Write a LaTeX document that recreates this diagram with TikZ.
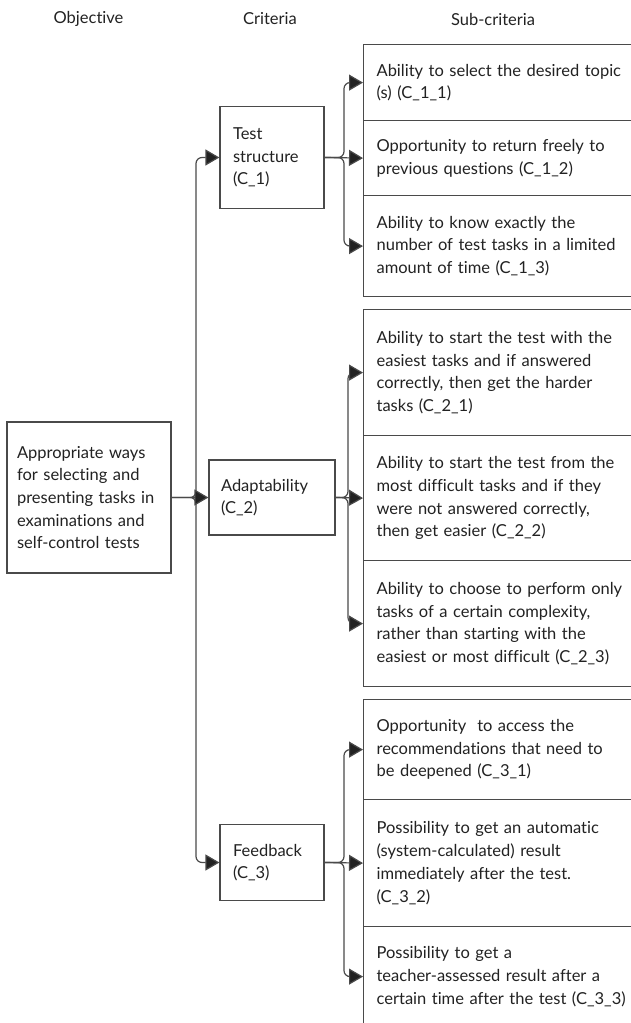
\documentclass[tikz,border=0pt]{standalone}
\usepackage{fontspec}
\setmainfont[Ligatures=NoCommon]{Lato}
\usetikzlibrary{arrows.meta}
\definecolor{boxc}{HTML}{4A4A4A}
\definecolor{linec}{HTML}{4A4A4A}
\definecolor{txt}{HTML}{222222}
\begin{document}
\begin{tikzpicture}[x=1pt,y=-1pt,
  every node/.style={text=txt, font=\fontsize{16.5}{22.7}\selectfont},
  box/.style={draw=boxc, line width=1.2pt, align=left, inner ysep=0pt},
  subbox/.style={box, anchor=north west, text width=290pt, inner xsep=13pt},
  head/.style={inner sep=0pt},
  arr/.style={draw=linec, line width=1.2pt, rounded corners=6pt,
    -{Triangle[length=14pt,width=16pt,fill=txt]}}]
\useasboundingbox (0,0) rectangle (631,1023);
\clip (0,0) rectangle (631,1023);
\fill[white] (0,0) rectangle (631,1023);
% headers
\node[head] (h1) at (88.5,19) {Objective};
\node[head] (h2) at (270,19) {Criteria};
\node[head] (h3) at (493,19) {Sub-criteria};
% objective
\node[box, minimum height=151pt, text width=144pt, inner xsep=10pt] (obj) at (89,497.5)
  {Appropriate ways\\for selecting and\\presenting tasks in\\examinations and\\self-control tests};
% criteria
\node[box, minimum height=102pt, text width=78pt, inner xsep=13pt] (c1) at (272,157.5)
  {Test\\structure\\(C\_1)};
\node[box, minimum height=75pt, text width=102pt, inner xsep=12pt] (c2) at (272,497.5)
  {Adaptability\\(C\_2)};
\node[box, minimum height=76pt, text width=78pt, inner xsep=13pt] (c3) at (272,862.5)
  {Feedback\\(C\_3)};
% sub-criteria
\node[subbox, minimum height=76pt] (s11) at (363,44)
  {Ability to select the desired topic\\(s) (C\_1\_1)};
\node[subbox, minimum height=75pt] (s12) at (363,120)
  {Opportunity to return freely to\\previous questions (C\_1\_2)};
\node[subbox, minimum height=101pt] (s13) at (363,195)
  {Ability to know exactly the\\number of test tasks in a limited\\amount of time (C\_1\_3)};
\node[subbox, minimum height=126pt] (s21) at (363,309)
  {Ability to start the test with the\\easiest tasks and if answered\\correctly, then get the harder\\tasks (C\_2\_1)};
\node[subbox, minimum height=125pt] (s22) at (363,435)
  {Ability to start the test from the\\most difficult tasks and if they\\were not answered correctly,\\then get easier (C\_2\_2)};
\node[subbox, minimum height=126pt] (s23) at (363,560)
  {Ability to choose to perform only\\tasks of a certain complexity,\\rather than starting with the\\easiest or most difficult (C\_2\_3)};
\node[subbox, minimum height=100pt] (s31) at (363,699)
  {Opportunity\ \ to access the\\recommendations that need to\\be deepened (C\_3\_1)};
\node[subbox, minimum height=127pt] (s32) at (363,799)
  {Possibility to get an automatic\\(system-calculated) result\\immediately after the test.\\(C\_3\_2)};
\node[subbox, minimum height=100pt] (s33) at (363,926)
  {Possibility to get a\\teacher-assessed result after a\\certain time after the test (C\_3\_3)};
% objective to criteria
\coordinate (j0) at (196,497.5);
\draw[arr] (obj.east) -- (j0) |- (c1.west);
\draw[arr] (obj.east) -- (j0) |- (c3.west);
\draw[arr] (obj.east) -- (c2.west);
% criteria to sub-criteria
\coordinate (f1) at (344,157.5);
\coordinate (f2) at (348,497.5);
\coordinate (f3) at (344,862.5);
\draw[arr] (c1.east) -- (f1) |- (s11.west);
\draw[arr] (c1.east) -- (s12.west);
\draw[arr] (c1.east) -- (f1) |- (s13.west);
\draw[arr] (c2.east) -- (f2) |- (s21.west);
\draw[arr] (c2.east) -- (s22.west);
\draw[arr] (c2.east) -- (f2) |- (s23.west);
\draw[arr] (c3.east) -- (f3) |- (s31.west);
\draw[arr] (c3.east) -- (s32.west);
\draw[arr] (c3.east) -- (f3) |- (s33.west);
\end{tikzpicture}
\end{document}
